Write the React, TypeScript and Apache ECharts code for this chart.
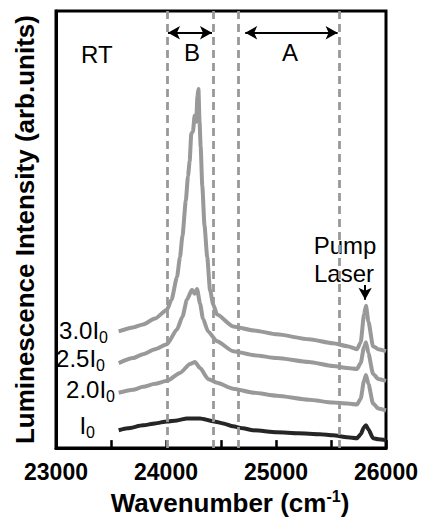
import React, { useEffect, useRef } from "react";
import * as echarts from "echarts";

// ---- data ----
const xTicks = [23000, 24000, 25000, 26000];

const i0X = [23570, 23650, 23791, 23900, 24009, 24100, 24190, 24310, 24436, 24520, 24610, 24700, 24790, 25009, 25200, 25400, 25518, 25650, 25736, 25770, 25800, 25818, 25840, 25882, 25930, 26000];
const i0Y = [18, 20, 23, 25, 27, 28, 30, 30, 27, 25, 22, 20, 18, 16, 15, 14, 13, 11, 10, 14, 21, 23, 19, 10, 9, 8];

const i20X = [23570, 23700, 23791, 23900, 24009, 24127, 24218, 24264, 24310, 24382, 24464, 24610, 24800, 25009, 25300, 25518, 25650, 25736, 25770, 25800, 25818, 25840, 25882, 25930, 26000];
const i20Y = [56, 59, 62, 65, 68, 76, 85, 87, 81, 70, 66, 60, 56, 53, 49, 46, 45, 44, 50, 68, 74, 65, 45, 40, 38];

const i25X = [23570, 23700, 23791, 23900, 24009, 24100, 24150, 24190, 24236, 24260, 24282, 24310, 24336, 24382, 24464, 24610, 24800, 25009, 25300, 25518, 25650, 25736, 25770, 25800, 25818, 25840, 25882, 25930, 26000];
const i25Y = [86, 91, 95, 100, 105, 120, 133, 150, 160, 156, 161, 146, 131, 118, 108, 98, 94, 91, 87, 83, 81, 80, 86, 102, 107, 96, 75, 70, 68];

const i30X = [23570, 23700, 23791, 23900, 24009, 24050, 24100, 24127, 24150, 24180, 24200, 24215, 24230, 24245, 24260, 24275, 24285, 24295, 24305, 24315, 24330, 24350, 24375, 24400, 24430, 24464, 24610, 24800, 25009, 25300, 25518, 25650, 25736, 25770, 25800, 25818, 25840, 25882, 25930, 26000];
const i30Y = [118, 122, 125, 131, 140, 150, 173, 193, 215, 250, 275, 290, 318, 320, 336, 330, 355, 363, 330, 305, 265, 225, 193, 160, 145, 135, 123, 119, 115, 110, 106, 103, 100, 107, 135, 144, 128, 103, 100, 98];

const regionLines = [24010, 24430, 24660, 25575];
const arrowB = [24018, 24418];
const arrowA = [24720, 25560];
const arrowLevel = 420;
const pumpX = 25810;
const pumpArrowY = [165, 150];
const seriesNames = ["3.0I0", "2.5I0", "2.0I0", "I0"];

const FONT = "'Liberation Sans', Arial, sans-serif";
const GRAY = "#999999";
const DARK = "#262626";

const zip = (xs: number[], ys: number[]) => xs.map((x, i) => [x, ys[i]]);

function seriesLabel(main: string, sub: string, right: number, cy: number) {
  return {
    type: "text",
    x: right,
    y: cy,
    style: {
      text: `{m|${main}}{s|${sub}}`,
      align: "right",
      verticalAlign: "middle",
      rich: {
        m: { fontSize: 24, fontFamily: FONT, fill: "#000", lineHeight: 30 },
        s: { fontSize: 16, fontFamily: FONT, fill: "#000", lineHeight: 10, verticalAlign: "bottom" },
      },
    },
  };
}

export default function App() {
  const ref = useRef<HTMLDivElement>(null);
  useEffect(() => {
    if (!ref.current) return;
    const chart = echarts.init(ref.current, undefined, { renderer: "svg" });
    const lineBase = (name: string, data: number[][], color: string) => ({
      name,
      type: "line",
      data,
      showSymbol: false,
      smooth: 0.2,
      smoothMonotone: "x",
      lineStyle: { color, width: 4 },
      itemStyle: { color },
      silent: true,
    });
    const option: any = {
      animation: false,
      grid: { left: 56, right: 35, top: 11, bottom: 68, show: true, borderColor: "#000", borderWidth: 3, backgroundColor: "transparent" },
      xAxis: {
        type: "value",
        min: xTicks[0],
        max: xTicks[xTicks.length - 1],
        interval: 1000,
        axisLine: { show: true, onZero: false, lineStyle: { color: "#000", width: 3 } },
        axisTick: { show: true, inside: true, length: 8, lineStyle: { color: "#000", width: 2.5 } },
        minorTick: { show: true, splitNumber: 2, length: 8, lineStyle: { color: "#000", width: 2.5 } },
        splitLine: { show: false },
        minorSplitLine: { show: false },
        axisLabel: { color: "#000", fontSize: 23, fontWeight: "bold", fontFamily: FONT, margin: 12, formatter: (v: number) => String(v) },
        name: "{m|Wavenumber (cm}{s|-1}{m|)}",
        nameLocation: "middle",
        nameGap: 37,
        nameTextStyle: {
          padding: [0, 0, 0, 18],
          rich: {
            m: { fontSize: 26, fontWeight: "bold", fontFamily: FONT, color: "#000", lineHeight: 30 },
            s: { fontSize: 16, fontWeight: "bold", fontFamily: FONT, color: "#000", lineHeight: 10, verticalAlign: "top" },
          },
        },
      },
      yAxis: {
        type: "value",
        min: 0,
        max: 442,
        axisLine: { show: true, lineStyle: { color: "#000", width: 3 } },
        axisTick: { show: false },
        axisLabel: { show: false },
        splitLine: { show: false },
        name: "Luminescence Intensity (arb.units)",
        nameLocation: "middle",
        nameGap: 18,
        nameTextStyle: { fontSize: 26, fontWeight: "bold", fontFamily: FONT, color: "#000" },
      },
      series: [
        {
          ...lineBase(seriesNames[3], zip(i0X, i0Y), DARK),
          markLine: {
            silent: true,
            symbol: "none",
            label: { show: false },
            lineStyle: { color: GRAY, width: 2.8, type: [8, 5] },
            data: regionLines.map((x) => ({ xAxis: x })),
          },
        },
        lineBase(seriesNames[2], zip(i20X, i20Y), GRAY),
        lineBase(seriesNames[1], zip(i25X, i25Y), GRAY),
        {
          ...lineBase(seriesNames[0], zip(i30X, i30Y), GRAY),
          markLine: {
            silent: true,
            symbol: ["arrow", "arrow"],
            symbolSize: [10, 12],
            label: { show: false },
            lineStyle: { color: "#000", width: 2, type: "solid" },
            data: [
              [{ coord: [arrowB[0], arrowLevel] }, { coord: [arrowB[1], arrowLevel] }],
              [{ coord: [arrowA[0], arrowLevel] }, { coord: [arrowA[1], arrowLevel] }],
              [
                { coord: [pumpX, pumpArrowY[0]], symbol: "none" },
                { coord: [pumpX, pumpArrowY[1]], symbol: "arrow" },
              ],
            ],
          },
        },
      ],
      graphic: [
        { type: "text", x: 81, y: 54, style: { text: "RT", fontSize: 24, fontFamily: FONT, fill: "#000", align: "left", verticalAlign: "middle" } },
        { type: "text", x: 192, y: 52, style: { text: "B", fontSize: 24, fontFamily: FONT, fill: "#000", align: "center", verticalAlign: "middle" } },
        { type: "text", x: 290, y: 52, style: { text: "A", fontSize: 24, fontFamily: FONT, fill: "#000", align: "center", verticalAlign: "middle" } },
        { type: "text", x: 345, y: 245, style: { text: "Pump", fontSize: 24, fontFamily: FONT, fill: "#000", align: "center", verticalAlign: "middle" } },
        { type: "text", x: 344, y: 273, style: { text: "Laser", fontSize: 24, fontFamily: FONT, fill: "#000", align: "center", verticalAlign: "middle" } },
        seriesLabel("3.0I", "0", 108, 330),
        seriesLabel("2.5I", "0", 105, 358),
        seriesLabel("2.0I", "0", 115, 389),
        seriesLabel("I", "0", 95, 425),
      ],
    };
    chart.setOption(option);
    return () => chart.dispose();
  }, []);
  return <div ref={ref} style={{ width: 421, height: 521, position: "absolute", left: 0, top: 0, background: "#fff" }} />;
}
